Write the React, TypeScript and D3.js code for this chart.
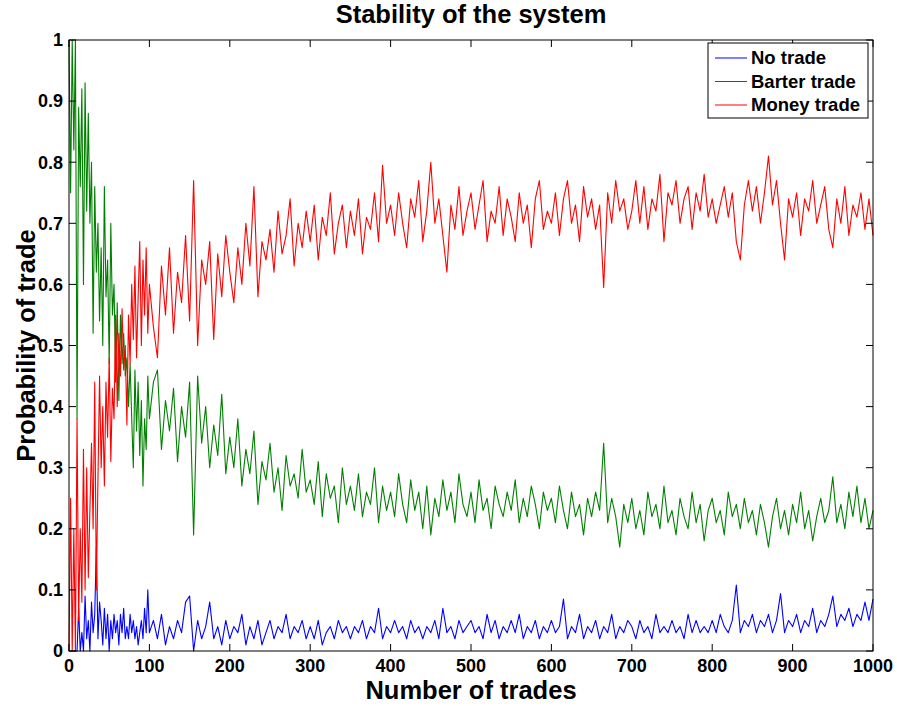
import React, { useEffect, useRef } from 'react';
import * as d3 from 'd3';

// trade index: every 2 trades up to 100, then every 5
const trades = d3.range(0, 100, 2).concat(d3.range(100, 1001, 5));

const noTrade = [
  0, 0, 0, 0, 0, 0, 0.07, 0, 0.03, 0,
  0.09, 0.02, 0.05, 0, 0.08, 0.03, 0.06, 0.17, 0.02, 0.08,
  0.05, 0.01, 0.07, 0.02, 0.06, 0, 0.05, 0.02, 0.06, 0.03,
  0.05, 0.01, 0.06, 0.03, 0.07, 0.02, 0.04, 0.02, 0.06, 0.03,
  0.05, 0.02, 0.04, 0.01, 0.03, 0.05, 0.02, 0.07, 0.03, 0.1,
  // 100..
  0.03, 0.05, 0.02, 0.06, 0.01, 0.04, 0.02, 0.05, 0.03, 0.08,
  0.09, 0, 0.05, 0.02, 0.04, 0.08, 0.02, 0.04, 0.01, 0.05,
  0.02, 0.04, 0.03, 0.06, 0.01, 0.04, 0.02, 0.05, 0.01, 0.03,
  0.05, 0.02, 0.04, 0.03, 0.06, 0.02, 0.04, 0.03, 0.05, 0.02,
  0.04, 0.02, 0.05, 0.01, 0.03, 0.04, 0.02, 0.05, 0.03, 0.04,
  0.02, 0.04, 0.03, 0.05, 0.02, 0.04, 0.03, 0.07, 0.02, 0.04,
  0.03, 0.05, 0.03, 0.04, 0.02, 0.05, 0.03, 0.04, 0.02, 0.04,
  0.03, 0.05, 0.02, 0.07, 0.03, 0.04, 0.02, 0.05, 0.03, 0.04,
  0.05, 0.03, 0.04, 0.02, 0.06, 0.03, 0.05, 0.02, 0.04, 0.03,
  0.05, 0.03, 0.06, 0.02, 0.04, 0.03, 0.05, 0.02, 0.04, 0.03,
  0.05, 0.03, 0.04, 0.085, 0.02, 0.04, 0.03, 0.06, 0.02, 0.04,
  0.03, 0.05, 0.02, 0.04, 0.03, 0.06, 0.02, 0.04, 0.03, 0.05,
  0.04, 0.02, 0.05, 0.03, 0.04, 0.02, 0.06, 0.03, 0.04, 0.03,
  0.05, 0.03, 0.04, 0.02, 0.06, 0.03, 0.05, 0.03, 0.04, 0.03,
  0.05, 0.03, 0.06, 0.04, 0.03, 0.05, 0.108, 0.03, 0.05, 0.04,
  0.06, 0.03, 0.05, 0.04, 0.06, 0.03, 0.05, 0.094, 0.03, 0.05,
  0.04, 0.06, 0.03, 0.05, 0.04, 0.07, 0.03, 0.05, 0.04, 0.06,
  0.09, 0.04, 0.06, 0.05, 0.07, 0.04, 0.06, 0.05, 0.08, 0.05,
  0.085,
];

const barterTrade = [
  1, 0.75, 1, 0.82, 1, 0.38, 0.89, 0.76, 0.92, 0.6,
  0.93, 0.72, 0.88, 0.7, 0.8, 0.52, 0.76, 0.62, 0.7, 0.54,
  0.66, 0.5, 0.76, 0.58, 0.64, 0.47, 0.7, 0.55, 0.6, 0.44,
  0.57, 0.41, 0.55, 0.47, 0.52, 0.45, 0.48, 0.4, 0.47, 0.38,
  0.3, 0.46, 0.36, 0.44, 0.32, 0.41, 0.27, 0.38, 0.33, 0.45,
  // 100..
  0.38, 0.44, 0.46, 0.33, 0.41, 0.36, 0.43, 0.31, 0.4, 0.35,
  0.44, 0.19, 0.45, 0.34, 0.4, 0.3, 0.37, 0.32, 0.42, 0.29,
  0.35, 0.3, 0.38, 0.27, 0.33, 0.29, 0.36, 0.24, 0.31, 0.28,
  0.34, 0.26, 0.3, 0.23, 0.32, 0.27, 0.29, 0.25, 0.33, 0.26,
  0.28, 0.24, 0.31, 0.22, 0.29, 0.25, 0.27, 0.21, 0.3, 0.24,
  0.27, 0.23, 0.29, 0.22, 0.26, 0.24, 0.3, 0.21, 0.27, 0.23,
  0.26, 0.22, 0.29, 0.24, 0.21, 0.28, 0.23, 0.26, 0.2, 0.27,
  0.19, 0.25, 0.22, 0.28, 0.23, 0.26, 0.21, 0.29, 0.24, 0.22,
  0.26, 0.21, 0.28, 0.23, 0.25, 0.2, 0.27, 0.24, 0.22, 0.26,
  0.23, 0.28, 0.21, 0.25, 0.22, 0.27, 0.24, 0.2, 0.26, 0.23,
  0.25, 0.21, 0.27, 0.23, 0.2, 0.26, 0.22, 0.24, 0.19, 0.25,
  0.22, 0.26, 0.23, 0.34, 0.21, 0.25, 0.22, 0.17, 0.24, 0.21,
  0.25, 0.2, 0.23, 0.19, 0.26, 0.22, 0.24, 0.2, 0.27, 0.21,
  0.23, 0.19, 0.25, 0.22, 0.2, 0.26, 0.21, 0.24, 0.18, 0.23,
  0.25, 0.21, 0.23, 0.19, 0.26, 0.22, 0.24, 0.2, 0.25, 0.21,
  0.23, 0.19, 0.24, 0.21, 0.17, 0.22, 0.25, 0.2, 0.23, 0.19,
  0.24, 0.21, 0.26, 0.2, 0.23, 0.18, 0.22, 0.25, 0.21, 0.23,
  0.285, 0.21, 0.24, 0.2, 0.26, 0.22, 0.27, 0.21, 0.25, 0.2,
  0.23,
];

const moneyTrade = [
  0, 0.25, 0, 0.2, 0, 0.38, 0.05, 0.2, 0.08, 0.33,
  0.1, 0.3, 0.12, 0.23, 0.34, 0.2, 0.44, 0.1, 0.28, 0.45,
  0.3, 0.4, 0.27, 0.44, 0.35, 0.48, 0.31, 0.43, 0.38, 0.55,
  0.4, 0.52, 0.45, 0.56, 0.46, 0.5, 0.37, 0.55, 0.47, 0.6,
  0.51, 0.63, 0.48, 0.58, 0.67, 0.5, 0.64, 0.55, 0.66, 0.52,
  // 100..
  0.6, 0.53, 0.48, 0.63, 0.55, 0.66, 0.52, 0.62, 0.57, 0.68,
  0.54, 0.77, 0.5, 0.64, 0.6, 0.67, 0.51, 0.65, 0.58, 0.68,
  0.62, 0.57, 0.66, 0.6, 0.7, 0.63, 0.76, 0.58, 0.67, 0.64,
  0.69, 0.62, 0.72, 0.65, 0.68, 0.74, 0.63, 0.7, 0.66, 0.72,
  0.67, 0.73, 0.64, 0.71, 0.68, 0.75, 0.65, 0.7, 0.73, 0.66,
  0.72, 0.68, 0.74, 0.65, 0.71, 0.69, 0.75, 0.67, 0.795, 0.7,
  0.73, 0.68, 0.75, 0.7, 0.66, 0.74, 0.71, 0.77, 0.67, 0.72,
  0.8, 0.7, 0.74, 0.68, 0.62, 0.73, 0.69, 0.76, 0.68, 0.72,
  0.75, 0.69, 0.73, 0.77, 0.67, 0.72, 0.7, 0.76, 0.68, 0.74,
  0.71, 0.67, 0.75, 0.7, 0.73, 0.66, 0.74, 0.77, 0.69, 0.72,
  0.7, 0.75, 0.68, 0.74, 0.77, 0.7, 0.73, 0.67, 0.76, 0.71,
  0.74, 0.69, 0.73, 0.595, 0.75, 0.7, 0.77, 0.72, 0.74, 0.69,
  0.72, 0.77, 0.7, 0.76, 0.69, 0.74, 0.72, 0.78, 0.67, 0.75,
  0.73, 0.77, 0.7, 0.74, 0.76, 0.69, 0.75, 0.72, 0.78, 0.71,
  0.74, 0.7, 0.73, 0.76, 0.71, 0.75, 0.67, 0.64, 0.73, 0.77,
  0.72, 0.76, 0.7, 0.75, 0.81, 0.73, 0.77, 0.7, 0.64, 0.74,
  0.71, 0.75, 0.68, 0.74, 0.72, 0.77, 0.7, 0.73, 0.76, 0.69,
  0.66, 0.74, 0.7, 0.76, 0.68, 0.73, 0.71, 0.75, 0.69, 0.74,
  0.68,
];

const seriesNames = ['No trade', 'Barter trade', 'Money trade'];
const seriesColors = ['#0000ff', '#008000', '#ff0000'];
const xTicks = [0, 100, 200, 300, 400, 500, 600, 700, 800, 900, 1000];
const yTicks = [0, 0.1, 0.2, 0.3, 0.4, 0.5, 0.6, 0.7, 0.8, 0.9, 1];
const yTickLabels = ['0', '0.1', '0.2', '0.3', '0.4', '0.5', '0.6', '0.7', '0.8', '0.9', '1'];

const FONT = '"Liberation Sans", Arial, Helvetica, sans-serif';

const App = () => {
  const ref = useRef<SVGSVGElement | null>(null);

  useEffect(() => {
    if (!ref.current) return;
    const width = 897;
    const height = 706;
    const m = { left: 69, right: 24, top: 40, bottom: 55 };
    const x0 = m.left, x1 = width - m.right, y0 = height - m.bottom, y1 = m.top;

    const svg = d3.select(ref.current);
    svg.selectAll('*').remove();
    svg.append('rect').attr('width', width).attr('height', height).attr('fill', '#fff');

    const x = d3.scaleLinear().domain([0, 1000]).range([x0, x1]);
    const y = d3.scaleLinear().domain([0, 1]).range([y0, y1]);

    const all = [noTrade, barterTrade, moneyTrade];
    const line = d3.line<number>()
      .x((d, i) => x(trades[i]))
      .y(d => y(d));

    const plot = svg.append('g');
    all.forEach((vals, k) => {
      plot.append('path')
        .datum(vals)
        .attr('d', line)
        .attr('fill', 'none')
        .attr('stroke', seriesColors[k])
        .attr('stroke-width', 1.1)
        .attr('stroke-linejoin', 'round');
    });

    // box + inward ticks on all four sides
    const ax = svg.append('g').attr('stroke', '#000').attr('stroke-width', 1);
    ax.append('rect')
      .attr('x', x0).attr('y', y1).attr('width', x1 - x0).attr('height', y0 - y1)
      .attr('fill', 'none');
    const tl = 7;
    xTicks.forEach(t => {
      ax.append('line').attr('x1', x(t)).attr('x2', x(t)).attr('y1', y0).attr('y2', y0 - tl);
      ax.append('line').attr('x1', x(t)).attr('x2', x(t)).attr('y1', y1).attr('y2', y1 + tl);
    });
    yTicks.forEach(t => {
      ax.append('line').attr('x1', x0).attr('x2', x0 + tl).attr('y1', y(t)).attr('y2', y(t));
      ax.append('line').attr('x1', x1).attr('x2', x1 - tl).attr('y1', y(t)).attr('y2', y(t));
    });

    const labels = svg.append('g')
      .attr('font-family', FONT)
      .attr('font-weight', 'bold')
      .attr('fill', '#000');

    xTicks.forEach(t => {
      labels.append('text')
        .attr('x', x(t)).attr('y', y0 + 21)
        .attr('text-anchor', 'middle')
        .attr('font-size', 18)
        .text(String(t));
    });
    yTicks.forEach((t, i) => {
      labels.append('text')
        .attr('x', x0 - 6).attr('y', y(t))
        .attr('dy', '0.35em')
        .attr('text-anchor', 'end')
        .attr('font-size', 18)
        .text(yTickLabels[i]);
    });

    labels.append('text')
      .attr('x', (x0 + x1) / 2).attr('y', 23)
      .attr('text-anchor', 'middle')
      .attr('font-size', 25.5)
      .text('Stability of the system');

    labels.append('text')
      .attr('x', (x0 + x1) / 2).attr('y', 699)
      .attr('text-anchor', 'middle')
      .attr('font-size', 25.5)
      .text('Number of trades');

    labels.append('text')
      .attr('transform', `translate(35,${(y0 + y1) / 2}) rotate(-90)`)
      .attr('text-anchor', 'middle')
      .attr('font-size', 25.5)
      .text('Probability of trade');

    // legend
    const lg = svg.append('g').attr('transform', 'translate(708,43)');
    lg.append('rect')
      .attr('width', 160).attr('height', 75)
      .attr('fill', '#fff').attr('stroke', '#000').attr('stroke-width', 1);
    seriesNames.forEach((name, i) => {
      const row = lg.append('g').attr('transform', `translate(0,${15 + i * 23.5})`);
      row.append('line')
        .attr('x1', 7).attr('x2', 39)
        .attr('stroke', seriesColors[i]).attr('stroke-width', 1);
      row.append('text')
        .attr('x', 43).attr('dy', '0.35em')
        .attr('font-family', FONT).attr('font-weight', 'bold')
        .attr('font-size', 18.5)
        .text(name);
    });
  }, []);

  return (
    <svg
      ref={ref}
      width={897}
      height={706}
      style={{ position: 'absolute', left: 0, top: 0, display: 'block' }}
    />
  );
};

export default App;
